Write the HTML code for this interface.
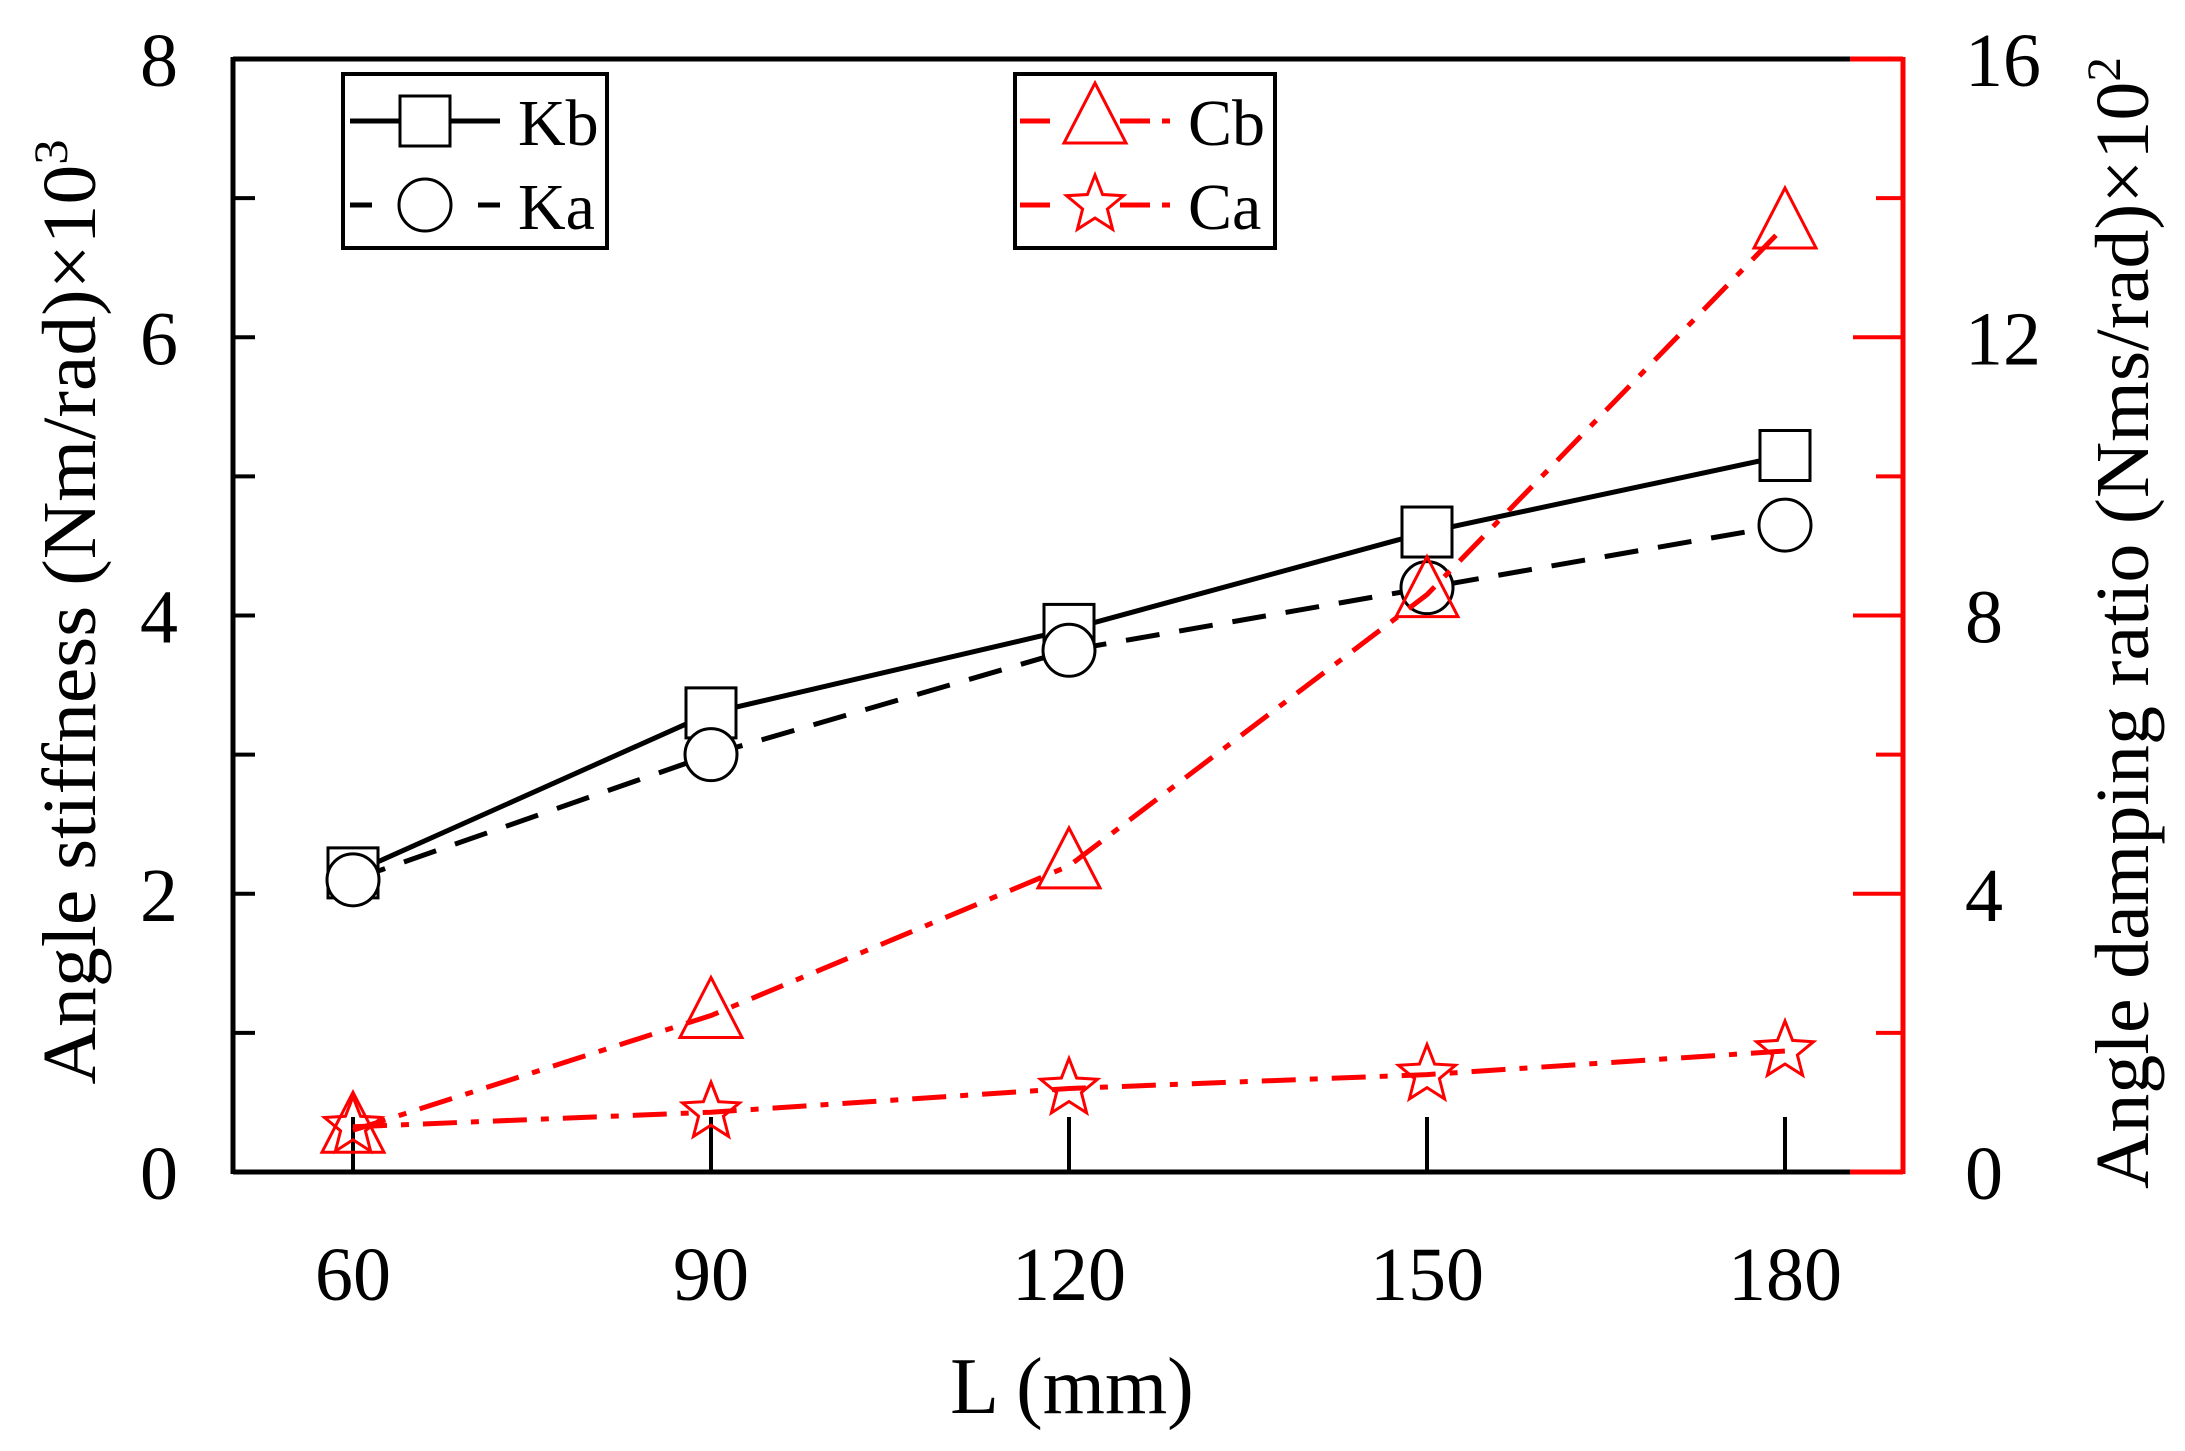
<!DOCTYPE html>
<html><head><meta charset="utf-8"><style>
html,body{margin:0;padding:0;background:#fff}
svg{display:block}
text{font-family:"Liberation Serif",serif}
</style></head><body>
<svg id="chart" width="2185" height="1451" viewBox="0 0 2185 1451">
<g id="axes"></g>
<g id="series"></g>
<g id="legend"></g>
</svg>
<script>
const categories=[60,90,120,150,180];
const kbValues=[2.15,3.3,3.9,4.6,5.15];
const kaValues=[2.1,3.0,3.75,4.2,4.65];
const cbValues=[0.6,2.25,4.4,8.3,13.6];
const caValues=[0.65,0.86,1.2,1.4,1.74];
const leftTicks=[0,2,4,6,8];
const rightTicks=[0,4,8,12,16];

const NS='http://www.w3.org/2000/svg';
const L=233,R=1903,T=59,B=1172,RS=1850;
function x(v){return 353+(v-60)*(1785-353)/120;}
function yL(v){return B-v*(B-T)/8;}
function yR(v){return B-v*(B-T)/16;}
function mk(tag,attrs,parent,txt){const e=document.createElementNS(NS,tag);for(const k in attrs)e.setAttribute(k,attrs[k]);if(txt!==undefined)e.textContent=txt;parent.appendChild(e);return e;}
const axes=document.getElementById('axes'),series=document.getElementById('series'),legend=document.getElementById('legend');

let e;
e=mk('line',{x1:L,y1:T,x2:RS,y2:T,stroke:'#000','stroke-width':5},axes);

e=mk('line',{x1:RS,y1:T,x2:R,y2:T,stroke:'#f00','stroke-width':5},axes);

e=mk('line',{x1:L,y1:T-2,x2:L,y2:B+2,stroke:'#000','stroke-width':5},axes);

e=mk('line',{x1:L,y1:B,x2:RS,y2:B,stroke:'#000','stroke-width':5},axes);

e=mk('line',{x1:RS,y1:B,x2:R,y2:B,stroke:'#f00','stroke-width':5},axes);

e=mk('line',{x1:R,y1:T-2,x2:R,y2:B+2,stroke:'#f00','stroke-width':5},axes);


for(let v=1;v<8;v++){
  e=mk('line',{x1:L,y1:yL(v),x2:L+22,y2:yL(v),stroke:'#000','stroke-width':4},axes);
  
}
leftTicks.forEach(v=>{
  e=mk('text',{x:178,y:yL(v)+27,'font-size':76,'text-anchor':'end'},axes,String(v));
  
});
for(let v=2;v<16;v+=2){
  const len=(v%4===0)?50:27;
  e=mk('line',{x1:R,y1:yR(v),x2:R-len,y2:yR(v),stroke:'#f00','stroke-width':4},axes);
  
}
rightTicks.forEach(v=>{
  e=mk('text',{x:1965,y:yR(v)+27,'font-size':76,'text-anchor':'start'},axes,String(v));
  
});
categories.forEach(c=>{
  e=mk('line',{x1:x(c),y1:B,x2:x(c),y2:B-55,stroke:'#000','stroke-width':4},axes);
  
  e=mk('text',{x:x(c),y:1300,'font-size':76,'text-anchor':'middle'},axes,String(c));
  
});
e=mk('text',{x:1072,y:1413,'font-size':80,'text-anchor':'middle'},axes,'L (mm)');

e=mk('text',{transform:'translate(95,612) rotate(-90)','font-size':76,'text-anchor':'middle',textLength:945,lengthAdjust:'spacingAndGlyphs'},axes);

e.innerHTML='Angle stiffness (Nm/rad)×10<tspan dy="-28" font-size="48">3</tspan>';
e=mk('text',{transform:'translate(2148,623) rotate(-90)','font-size':76,'text-anchor':'middle',textLength:1132,lengthAdjust:'spacingAndGlyphs'},axes);

e.innerHTML='Angle damping ratio (Nms/rad)×10<tspan dy="-28" font-size="48">2</tspan>';

function marker(type,cx,cy,color,parent){
  let m;
  if(type==='square')m=mk('rect',{x:cx-25,y:cy-25,width:50,height:50,fill:'#fff',stroke:color,'stroke-width':3},parent);
  else if(type==='circle')m=mk('circle',{cx:cx,cy:cy,r:26,fill:'#fff',stroke:color,'stroke-width':3},parent);
  else if(type==='triangle')m=mk('polygon',{points:`${cx},${cy-38} ${cx+31},${cy+22} ${cx-31},${cy+22}`,fill:'none',stroke:color,'stroke-width':3},parent);
  else{
    let pts=[];for(let i=0;i<10;i++){const a=-Math.PI/2+i*Math.PI/5;const r=i%2?13:30;pts.push((cx+r*Math.cos(a)).toFixed(1)+','+(cy+r*Math.sin(a)).toFixed(1));}
    m=mk('polygon',{points:pts.join(' '),fill:'none',stroke:color,'stroke-width':3},parent);
  }
  return m;
}
function drawSeries(name,vals,yf,color,dash,type){
  const g=mk('g',{},series);
  
  
  const pts=vals.map((v,i)=>x(categories[i]).toFixed(1)+','+yf(v).toFixed(1)).join(' ');
  const pl=mk('polyline',{points:pts,fill:'none',stroke:color,'stroke-width':5,'stroke-dasharray':dash},g);
  
  
  vals.forEach((v,i)=>{
    const m=marker(type,x(categories[i]),yf(v),color,g);
    
    
  });
}
drawSeries('kb',kbValues,yL,'#000','none','square');
drawSeries('ka',kaValues,yL,'#000','34 20','circle');
drawSeries('cb',cbValues,yR,'#f00','34 14 8 14','triangle');
drawSeries('ca',caValues,yR,'#f00','34 14 8 14','star');

function legendBox(name,x0,y0,w,h){
  const r=mk('rect',{x:x0,y:y0,width:w,height:h,fill:'#fff',stroke:'#000','stroke-width':4},legend);
  
}
legendBox('legend-k',343,74,264,174);
legendBox('legend-c',1015,74,260,174);
function legendEntry(name,x0,yc,color,segs,type,label){
  const g=mk('g',{},legend);
  
  
  segs.forEach(s=>mk('line',{x1:x0+s[0],y1:yc,x2:x0+s[1],y2:yc,stroke:color,'stroke-width':5},g));
  marker(type,x0+75,yc,color,g);
  const t=mk('text',{x:x0+168,y:yc+24,'font-size':66},g,label);
  
  
}
legendEntry('kb',350,121,'#000',[[0,150]],'square','Kb');
legendEntry('ka',350,205,'#000',[[0,22],[128,150]],'circle','Ka');
legendEntry('cb',1020,121,'#f00',[[0,30],[100,130],[142,150]],'triangle','Cb');
legendEntry('ca',1020,205,'#f00',[[0,30],[100,130],[142,150]],'star','Ca');
</script>
</body></html>
